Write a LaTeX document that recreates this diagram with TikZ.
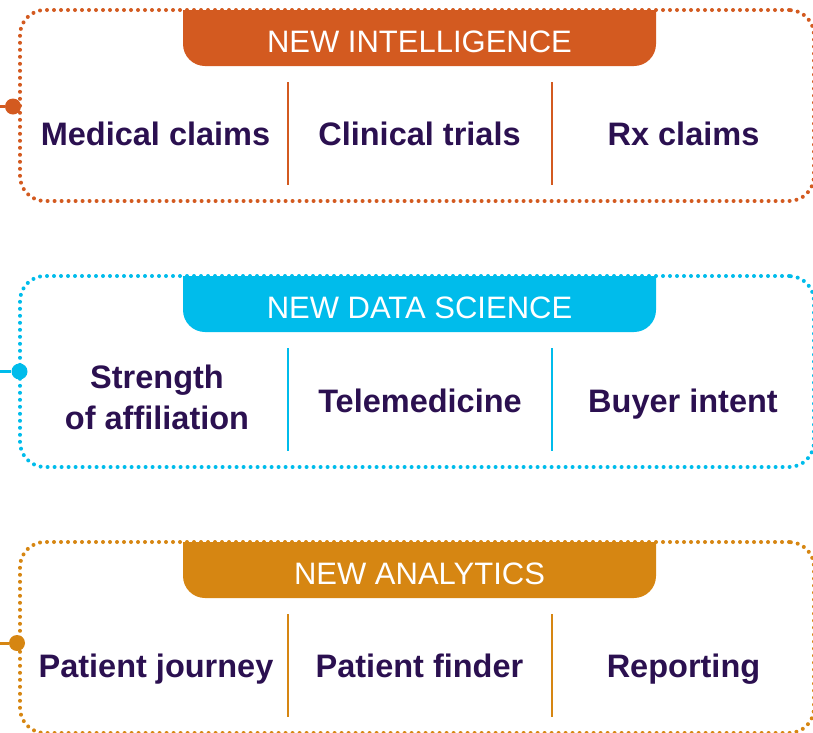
\documentclass[tikz,border=0pt]{standalone}
\usepackage{fontspec}
\setmainfont{Liberation Sans}
\definecolor{intel}{HTML}{D35A20}
\definecolor{sci}{HTML}{00BCEB}
\definecolor{ana}{HTML}{D68612}
\definecolor{ink}{HTML}{2B1050}
\begin{document}
\begin{tikzpicture}[x=1pt,y=-1pt,
  panel/.style={draw=#1, line width=4pt, dash pattern=on 0pt off 7pt,
    line cap=round, rounded corners=25pt, minimum width=794pt,
    minimum height=191pt, inner sep=0pt, outer sep=0pt, anchor=north west},
  tabfill/.style={fill=#1},
  heading/.style={text=white, font=\fontsize{31}{36}\selectfont, anchor=base,
    inner sep=0pt},
  item/.style={text=ink, font=\bfseries\fontsize{32.5}{41}\selectfont,
    anchor=base, inner sep=0pt, align=center},
  divider/.style={draw=#1, line width=1.4pt},
  dot/.style={circle, fill=#1, minimum size=16pt, inner sep=0pt},
  link/.style={draw=#1, line width=3pt}
]
\useasboundingbox (0,0) rectangle (813,732);
\clip (0,0) rectangle (813,732);

% ---------- New intelligence ----------
\node[panel=intel] (p1) at (20,10) {};
\fill[tabfill=intel] (183,10) [rounded corners=22pt] -- (183,66) -- (656,66)
  [sharp corners] -- (656,10) -- cycle;
\node[heading] (h1) at (419.5,52) {NEW INTELLIGENCE};
\draw[divider=intel] (288,82) -- (288,185);
\draw[divider=intel] (552,82) -- (552,185);
\node[item] (a1) at (155.5,145) {Medical claims};
\node[item] (a2) at (419.5,145) {Clinical trials};
\node[item] (a3) at (683.5,145) {Rx claims};
\coordinate (s1) at (0,106.5);
\node[dot=intel] (d1) at (13,106.5) {};
\draw[link=intel] (s1) -- (d1);

% ---------- New data science ----------
\node[panel=sci] (p2) at (20,276) {};
\fill[tabfill=sci] (183,276) [rounded corners=22pt] -- (183,332) -- (656,332)
  [sharp corners] -- (656,276) -- cycle;
\node[heading] (h2) at (419.5,318) {NEW DATA SCIENCE};
\draw[divider=sci] (288,348) -- (288,451);
\draw[divider=sci] (552,348) -- (552,451);
% two-line label: the base anchor sits on the last line
\node[item] (b1) at (157,429) {Strength\\of affiliation};
\node[item] (b2) at (420,412) {Telemedicine};
\node[item] (b3) at (683,412) {Buyer intent};
\coordinate (s2) at (0,371.5);
\node[dot=sci] (d2) at (19.5,371.5) {};
\draw[link=sci] (s2) -- (d2);

% ---------- New analytics ----------
\node[panel=ana] (p3) at (20,542) {};
\fill[tabfill=ana] (183,542) [rounded corners=22pt] -- (183,598) -- (656,598)
  [sharp corners] -- (656,542) -- cycle;
\node[heading] (h3) at (419.5,584) {NEW ANALYTICS};
\draw[divider=ana] (288,614) -- (288,717);
\draw[divider=ana] (552,614) -- (552,717);
\node[item] (c1) at (156,677) {Patient journey};
\node[item] (c2) at (419.5,677) {Patient finder};
\node[item] (c3) at (683.5,677) {Reporting};
\coordinate (s3) at (0,643);
\node[dot=ana] (d3) at (17,643) {};
\draw[link=ana] (s3) -- (d3);
\end{tikzpicture}
\end{document}
